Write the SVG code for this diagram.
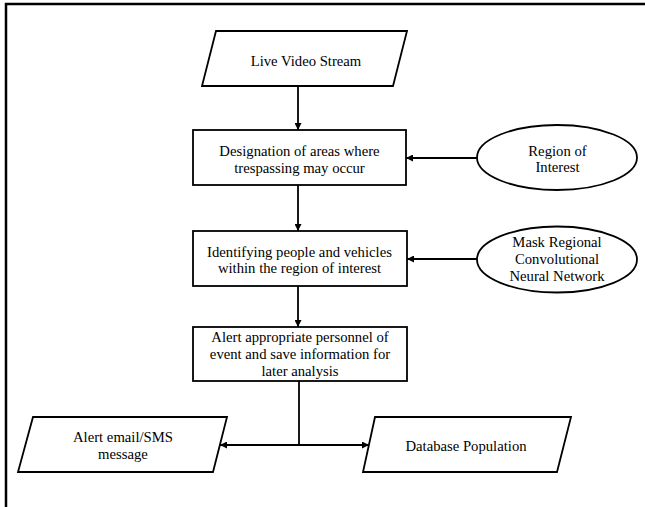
<svg xmlns="http://www.w3.org/2000/svg" width="645" height="507" viewBox="0 0 645 507">
  <style>
    .shape { fill: #ffffff; stroke: #000000; stroke-width: 1.8; }
    .edge { fill: none; stroke: #000000; stroke-width: 1.8; }
    .frame { fill: none; stroke: #000000; stroke-width: 2.5; }
    text { font-family: "Liberation Serif", "Times New Roman", serif; font-size: 14.7px; fill: #000000; text-anchor: middle; }
  </style>
  <defs>
    <marker id="arrow" viewBox="0 0 10 10" refX="10" refY="5" markerWidth="8" markerHeight="7" markerUnits="userSpaceOnUse" orient="auto">
      <path d="M0,0 L10,5 L0,10 Z" fill="#000000"/>
    </marker>
  </defs>

  <g id="frame">
    <path class="frame" d="M6,507 L6,4 L645,4"/>
  </g>

  <g id="connectors">
    <line class="edge" x1="298" y1="86" x2="298" y2="130" marker-end="url(#arrow)"/>
    <line class="edge" x1="298" y1="185" x2="298" y2="231" marker-end="url(#arrow)"/>
    <line class="edge" x1="298" y1="286" x2="298" y2="327" marker-end="url(#arrow)"/>
    <line class="edge" x1="477" y1="158" x2="406" y2="158" marker-end="url(#arrow)"/>
    <line class="edge" x1="477" y1="259" x2="407" y2="259" marker-end="url(#arrow)"/>
    <line class="edge" x1="299" y1="381" x2="299" y2="445"/>
    <line class="edge" x1="299" y1="445" x2="220" y2="445" marker-end="url(#arrow)"/>
    <line class="edge" x1="299" y1="445" x2="369" y2="445" marker-end="url(#arrow)"/>
  </g>

  <g id="live-video-stream">
    <polygon class="shape" points="216,31 407,31 393,86 202,86"/>
    <text x="306" y="65.5">Live Video Stream</text>
  </g>

  <g id="designation">
    <rect class="shape" x="193" y="130" width="213" height="55"/>
    <text x="299.5" y="155.7">Designation of areas where</text>
    <text x="299.5" y="172.5">trespassing may occur</text>
  </g>

  <g id="region-of-interest">
    <ellipse class="shape" cx="557" cy="157.5" rx="80" ry="32.5"/>
    <text x="557.5" y="156">Region of</text>
    <text x="557.5" y="172">Interest</text>
  </g>

  <g id="identifying">
    <rect class="shape" x="193" y="231" width="214" height="55"/>
    <text x="299.5" y="256.7">Identifying people and vehicles</text>
    <text x="299.5" y="273.3">within the region of interest</text>
  </g>

  <g id="mask-rcnn">
    <ellipse class="shape" cx="557" cy="259.5" rx="80" ry="33"/>
    <text x="557" y="247">Mask Regional</text>
    <text x="557" y="264">Convolutional</text>
    <text x="557" y="280.7">Neural Network</text>
  </g>

  <g id="alert-personnel">
    <rect class="shape" x="193" y="327" width="214" height="54"/>
    <text x="300" y="341.7">Alert appropriate personnel of</text>
    <text x="300" y="359">event and save information for</text>
    <text x="300" y="376">later analysis</text>
  </g>

  <g id="alert-email">
    <polygon class="shape" points="33,417 227,417 213,472 18,472"/>
    <text x="123" y="442.3">Alert email/SMS</text>
    <text x="123" y="458.5">message</text>
  </g>

  <g id="database-population">
    <polygon class="shape" points="375,417 571,417 557,472 363,472"/>
    <text x="466" y="450.7">Database Population</text>
  </g>
</svg>
